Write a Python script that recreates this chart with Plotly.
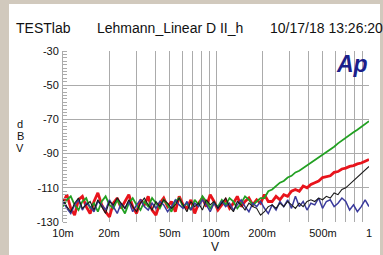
import numpy as np
import plotly.graph_objects as go

# Sweep: 80 log-spaced points, 10 mV .. 1 V
n_points = 80
volts = list(np.logspace(-2, 0, n_points))

red_dbv = [
    -119, -114, -122, -126, -117, -115, -121, -125, -118, -113,
    -120, -124, -127, -119, -116, -122, -118, -114, -121, -125,
    -117, -120, -115, -123, -126, -119, -116, -121, -118, -124,
    -115, -120, -122, -117, -125, -119, -116, -121, -114, -118,
    -123, -120, -117, -122, -119, -115, -121, -118, -116, -120,
    -117, -119, -114, -118, -118, -115, -117, -114, -115, -112,
    -111, -112, -109, -110, -108, -107, -106, -104, -103.5, -103,
    -101, -100.5, -99, -98.5, -97.5, -97, -96, -95.5, -94.5, -93.5,
]
green_dbv = [
    -121, -117, -115, -120, -123, -118, -116, -122, -119, -124,
    -118, -115, -120, -122, -117, -121, -125, -119, -116, -120,
    -123, -118, -121, -116, -119, -122, -117, -120, -124, -118,
    -116, -121, -119, -123, -117, -120, -115, -118, -122, -119,
    -121, -117, -120, -116, -118, -122, -119, -115, -117, -120,
    -118, -116, -116, -112, -111, -109, -107, -106, -104, -103,
    -101, -100, -98.5, -97, -95, -94, -92, -90.5, -89, -87.5,
    -86, -84, -82.5, -81, -79, -77.5, -76, -74.5, -72.5, -71,
]
black_dbv = [
    -117, -121, -124, -119, -116, -122, -120, -118, -123, -117,
    -121, -125, -118, -120, -116, -119, -122, -117, -121, -124,
    -119, -116, -120, -123, -118, -121, -117, -119, -122, -120,
    -116, -120, -124, -118, -121, -119, -123, -117, -120, -118,
    -122, -119, -116, -121, -124, -118, -120, -123, -119, -121,
    -122, -126, -124, -121, -120, -122, -119, -121, -118, -120,
    -122, -119, -121, -118, -117, -118, -116, -117, -115, -116,
    -113, -114, -111, -110, -108, -106, -104, -102, -100, -97.5,
]
blue_dbv = [
    -118, -122, -125, -120, -117, -123, -119, -121, -124, -118,
    -120, -123, -117, -121, -125, -119, -122, -118, -124, -120,
    -117, -121, -123, -119, -122, -118, -120, -124, -121, -117,
    -120, -122, -118, -123, -119, -121, -117, -120, -124, -119,
    -122, -118, -121, -119, -123, -120, -117, -121, -124, -119,
    -121, -118, -122, -125, -120, -123, -118, -121, -117, -122,
    -115, -121, -118, -123, -119, -120, -116, -122, -118, -117,
    -121, -119, -116, -118, -123, -120, -124, -121, -117, -121,
]

x_grid_vals = [0.01, 0.02, 0.03, 0.04, 0.05, 0.06, 0.07, 0.08, 0.09,
               0.1, 0.2, 0.3, 0.4, 0.5, 0.6, 0.7, 0.8, 0.9, 1.0]
x_grid_text = ["10m", "20m", "", "", "50m", "", "", "", "",
               "100m", "200m", "", "", "500m", "", "", "", "", "1"]
y_tick_vals = [-130, -110, -90, -70, -50, -30]
y_tick_text = ["-130", "-110", "-90", "-70", "-50", "-30"]

FONT = "Liberation Sans, Arial, sans-serif"
GRID = "#ababab"
BEIGE = "#d1c9bd"

fig = go.Figure()
fig.add_trace(go.Scatter(x=volts, y=red_dbv, mode="lines",
                         line=dict(color="#e8141c", width=2.8)))
fig.add_trace(go.Scatter(x=volts, y=green_dbv, mode="lines",
                         line=dict(color="#22a022", width=1.8)))
fig.add_trace(go.Scatter(x=volts, y=blue_dbv, mode="lines",
                         line=dict(color="#3a3a9c", width=1.5)))
fig.add_trace(go.Scatter(x=volts, y=black_dbv, mode="lines",
                         line=dict(color="#1a1a1a", width=1.1)))

L, R, T, B = 63, 14, 51, 33
W, H = 383, 255
pw, ph = W - L - R, H - T - B

def px_x(p):
    return (p - L) / pw

def px_y(p):
    return (H - B - p) / ph

shapes = [
    dict(type="rect", xref="paper", yref="paper", x0=px_x(0), x1=px_x(9),
         y0=px_y(H), y1=px_y(0), fillcolor=BEIGE, line=dict(width=0), layer="below"),
    dict(type="rect", xref="paper", yref="paper", x0=px_x(380), x1=px_x(W),
         y0=px_y(H), y1=px_y(0), fillcolor=BEIGE, line=dict(width=0), layer="below"),
    dict(type="rect", xref="paper", yref="paper", x0=px_x(0), x1=px_x(W),
         y0=px_y(4), y1=px_y(0), fillcolor=BEIGE, line=dict(width=0), layer="below"),
]

annotations = [
    dict(text="TESTlab", x=px_x(14), y=px_y(28), xanchor="left", yanchor="middle"),
    dict(text="Lehmann_Linear D II_h", x=px_x(95), y=px_y(28), xanchor="left", yanchor="middle"),
    dict(text="10/17/18 13:26:20", x=px_x(268), y=px_y(28), xanchor="left", yanchor="middle"),
]
for a in annotations:
    a.update(xref="paper", yref="paper", showarrow=False,
             font=dict(family=FONT, size=14, color="#111111"))

def label(text, xp, yp, size):
    return dict(text=text, x=px_x(xp), y=px_y(yp), xref="paper", yref="paper",
                showarrow=False, xanchor="center", yanchor="middle",
                font=dict(family=FONT, size=size, color="#111111"))

annotations += [
    dict(text="<b><i>Ap</i></b>", x=px_x(352), y=px_y(64), xref="paper", yref="paper",
         showarrow=False, xanchor="center", yanchor="middle",
         font=dict(family=FONT, size=23, color="#1c1f8a")),
    label("d", 20, 124, 11),
    label("B", 20, 136, 11),
    label("V", 20, 148, 11),
    label("V", 215, 247, 12),
]

fig.update_layout(
    width=W, height=H,
    margin=dict(l=L, r=R, t=T, b=B, pad=0),
    paper_bgcolor="white", plot_bgcolor="white",
    showlegend=False,
    shapes=shapes, annotations=annotations,
    font=dict(family=FONT, size=11, color="#111111"),
)
fig.update_xaxes(type="log", range=[-2, 0], tickvals=x_grid_vals, ticktext=x_grid_text,
                 showgrid=True, gridcolor=GRID, gridwidth=1, zeroline=False,
                 showline=False, ticks="", ticklabelstandoff=3,
                 tickfont=dict(family=FONT, size=11, color="#111111"))
fig.update_yaxes(range=[-130, -30], tickvals=y_tick_vals, ticktext=y_tick_text,
                 showgrid=True, gridcolor=GRID, gridwidth=1, zeroline=False,
                 showline=True, linecolor=GRID, linewidth=1, ticks="",
                 ticklabelstandoff=1,
                 minor=dict(dtick=2, ticks="inside", ticklen=4, tickcolor=GRID,
                            showgrid=False),
                 tickfont=dict(family=FONT, size=11, color="#111111"))

fig.write_html(
    "out.html",
    config={"displayModeBar": False},
    post_script="document.body.style.margin='0';document.body.style.overflow='hidden';",
)
